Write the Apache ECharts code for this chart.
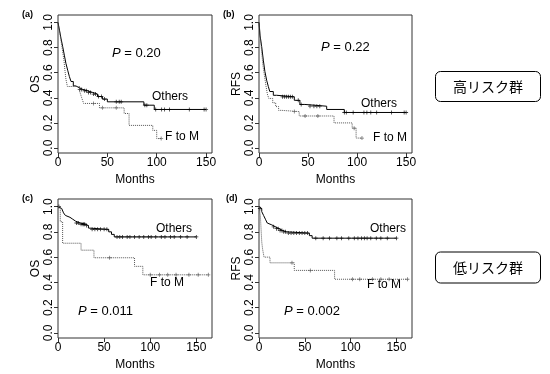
<!DOCTYPE html>
<html>
<head>
<meta charset="utf-8">
<script src="https://cdn.jsdelivr.net/npm/echarts@6/dist/echarts.min.js"></script>
<style>html,body{margin:0;padding:0;background:#fff}#c{width:550px;height:374px}</style>
</head>
<body>
<div id="c"></div>
<script>
// ---- Data ----
const xTicks = [0, 50, 100, 150];
const yTicks = [0, 0.2, 0.4, 0.6, 0.8, 1.0];
const panelLabels = ['(a)', '(b)', '(c)', '(d)'];
const yTitles = ['OS', 'RFS', 'OS', 'RFS'];
const pTexts = ['0.20', '0.22', '0.011', '0.002'];
const groupNames = ['Others', 'F to M'];
const riskLabels = ['高リスク群', '低リスク群'];

// (a) OS, high-risk
const aOthT = [0, 1.5, 3, 4.7, 6.4, 8, 9.8, 11.5, 13.2, 15.5, 18, 21.6, 25, 30, 35, 40, 45, 50, 87, 97.5, 150];
const aOthS = [1, 0.94, 0.875, 0.81, 0.74, 0.675, 0.62, 0.57, 0.53, 0.495, 0.48, 0.467, 0.456, 0.443, 0.43, 0.41, 0.39, 0.368, 0.341, 0.307, 0.307];
const aOthC = [22, 24, 27, 29, 31, 33, 36, 38, 41, 44, 47, 59, 62, 64, 88, 90, 99, 105, 108, 113, 133, 148, 150];
const aFmT = [0, 1.5, 3, 4.5, 6, 7, 8, 9.5, 22, 24, 26, 42, 67, 72, 96, 100, 104.5];
const aFmS = [1, 0.93, 0.86, 0.78, 0.70, 0.62, 0.55, 0.49, 0.45, 0.40, 0.355, 0.32, 0.275, 0.18, 0.14, 0.075, 0.075];
const aFmC = [36, 45, 59, 104.5];

// (b) RFS, high-risk
const bOthT = [0, 1, 2.7, 4.4, 6, 7.8, 9.5, 11, 14.6, 18, 36, 41.7, 46.8, 69, 87, 150];
const bOthS = [1, 0.9, 0.81, 0.70, 0.61, 0.54, 0.49, 0.45, 0.42, 0.408, 0.38, 0.347, 0.333, 0.307, 0.283, 0.283];
const bOthC = [24, 26, 28, 30, 32, 34, 40, 43, 52, 56, 59, 62, 87, 89, 96, 107, 110, 114, 120, 135, 148, 150];
const bFmT = [0, 1, 2, 3, 4, 5.5, 7, 8.5, 10, 14, 17, 20, 23, 41, 76.5, 95, 99, 105];
const bFmS = [1, 0.92, 0.83, 0.74, 0.66, 0.58, 0.50, 0.43, 0.395, 0.36, 0.33, 0.30, 0.29, 0.255, 0.20, 0.158, 0.079, 0.079];
const bFmC = [36, 47, 60, 97, 105];

// (c) OS, low-risk
const cOthT = [0, 2, 4, 6, 8, 10, 13, 16, 19, 24, 30, 33, 35, 55, 58, 61, 150];
const cOthS = [1, 0.985, 0.97, 0.95, 0.93, 0.915, 0.90, 0.885, 0.87, 0.86, 0.85, 0.83, 0.82, 0.80, 0.78, 0.76, 0.76];
const cOthC = [1, 20, 22, 25, 27, 28, 29, 31, 37, 40, 43, 46, 50, 53, 64, 67, 70, 75, 78, 83, 88, 93, 98, 101, 106, 112, 116, 122, 126, 133, 140, 150];
const cFmT = [0, 2.5, 5, 25, 39, 83, 92, 163];
const cFmS = [1, 0.88, 0.71, 0.655, 0.595, 0.527, 0.46, 0.46];
const cFmC = [56, 100, 110, 119, 128, 142, 152, 163];

// (d) RFS, low-risk
const dOthT = [0, 1, 3, 5, 7, 9, 11, 14, 18, 22, 26, 30, 55, 58, 150];
const dOthS = [1, 0.985, 0.96, 0.93, 0.90, 0.87, 0.855, 0.84, 0.825, 0.81, 0.80, 0.79, 0.77, 0.75, 0.75];
const dOthC = [1, 16, 19, 21, 23, 25, 27, 29, 32, 35, 38, 41, 44, 47, 50, 53, 62, 70, 77, 85, 90, 98, 104, 108, 112, 115, 118, 122, 128, 133, 140, 150];
const dFmT = [0, 1.5, 2, 2.5, 3, 4, 5.5, 12, 38.5, 82.5, 162];
const dFmS = [1, 0.93, 0.86, 0.79, 0.72, 0.66, 0.60, 0.555, 0.495, 0.425, 0.425];
const dFmC = [36, 56, 102, 110, 124, 133, 142, 162];

// ---- Layout ----
const FONT = 'Liberation Sans, Arial, Helvetica, sans-serif';
const grids = [
  {left: 58, top: 15, width: 154, height: 138},
  {left: 259, top: 15, width: 153, height: 138},
  {left: 58, top: 199, width: 154, height: 139},
  {left: 259, top: 199, width: 153, height: 139}
];
const xMax = [156, 156, 167, 167];
const panels = [
  {oth: [aOthT, aOthS, aOthC], fm: [aFmT, aFmS, aFmC]},
  {oth: [bOthT, bOthS, bOthC], fm: [bFmT, bFmS, bFmC]},
  {oth: [cOthT, cOthS, cOthC], fm: [cFmT, cFmS, cFmC]},
  {oth: [dOthT, dOthS, dOthC], fm: [dFmT, dFmS, dFmC]}
];

function survAt(T, S, t) {
  let v = S[0];
  for (let k = 0; k < T.length; k++) { if (T[k] <= t) v = S[k]; }
  return v;
}

const plusPath = 'path://M2,0h1v2h2v1h-2v2h-1v-2h-2v-1h2z';
const series = [];
panels.forEach((p, i) => {
  [['oth', '#000', 'solid'], ['fm', '#555', 'dotted']].forEach(([key, col, type]) => {
    const [T, S, C] = p[key];
    series.push({
      type: 'line', xAxisIndex: i, yAxisIndex: i, step: 'end', symbol: 'none',
      lineStyle: {color: col, width: 1, type: type}, silent: true, animation: false,
      data: T.map((t, k) => [t, S[k]])
    });
    series.push({
      type: 'scatter', xAxisIndex: i, yAxisIndex: i, symbol: plusPath, symbolSize: 4,
      itemStyle: {color: col}, silent: true, animation: false,
      data: C.map(t => [t, survAt(T, S, t)])
    });
  });
});

const xAxes = grids.map((g, i) => ({
  gridIndex: i, type: 'value', min: 0, max: xMax[i],
  name: 'Months', nameLocation: 'middle', nameGap: 21,
  nameTextStyle: {color: '#000', fontSize: 12, fontFamily: FONT},
  axisLine: {show: false, onZero: false},
  axisTick: {show: true, length: 4, customValues: xTicks, lineStyle: {color: '#333'}},
  axisLabel: {customValues: xTicks, color: '#000', fontSize: 12, fontFamily: FONT, margin: 4},
  splitLine: {show: false}
}));
const yAxes = grids.map((g, i) => ({
  gridIndex: i, type: 'value', min: -0.04, max: 1.06,
  name: yTitles[i], nameLocation: 'middle', nameGap: 15, nameRotate: 90,
  nameTextStyle: {color: '#000', fontSize: 12, fontFamily: FONT},
  axisLine: {show: false, onZero: false},
  axisTick: {show: true, length: 4, customValues: yTicks, lineStyle: {color: '#333'}},
  axisLabel: {customValues: yTicks, rotate: 90, color: '#000', fontSize: 12, fontFamily: FONT, margin: 3,
    formatter: v => v.toFixed(1)},
  splitLine: {show: false}
}));

const graphic = [];
const labelPos = [[22, 15], [223, 15], [22, 199], [226, 199]];
panelLabels.forEach((t, i) => graphic.push({
  type: 'text', x: labelPos[i][0], y: labelPos[i][1],
  style: {text: t, fontSize: 9, fontWeight: 'bold', fontFamily: FONT, fill: '#000', verticalAlign: 'middle'}
}));
const pPos = [[112, 53], [321, 47], [78, 311], [284, 311]];
pTexts.forEach((t, i) => graphic.push({
  type: 'text', x: pPos[i][0], y: pPos[i][1],
  style: {text: '{i|P} = ' + t, fontSize: 13, fontFamily: FONT, fill: '#000', verticalAlign: 'middle',
    rich: {i: {fontStyle: 'italic', fontSize: 13, fontFamily: FONT}}}
}));
const othPos = [[152, 97], [361, 104], [156, 229], [370, 229]];
const fmPos = [[165, 137], [373, 138], [150, 283], [367, 285]];
[othPos, fmPos].forEach((pos, g) => pos.forEach(([x, y]) => graphic.push({
  type: 'text', x: x, y: y,
  style: {text: groupNames[g], fontSize: 12, fontFamily: FONT, fill: '#000', verticalAlign: 'middle'}
})));
const boxY = [[71.5, 30], [252, 31]];
riskLabels.forEach((t, i) => {
  graphic.push({type: 'rect', shape: {x: 435.5, y: boxY[i][0], width: 105, height: boxY[i][1], r: 5},
    style: {fill: '#fff', stroke: '#000', lineWidth: 1}});
  graphic.push({type: 'text', x: 488, y: boxY[i][0] + boxY[i][1] / 2,
    style: {text: t, fontSize: 14, fontFamily: 'Noto Sans CJK JP, sans-serif', fill: '#000',
      align: 'center', verticalAlign: 'middle'}});
});

const chart = echarts.init(document.getElementById('c'), null, {renderer: 'canvas'});
chart.setOption({
  animation: false,
  grid: grids.map(g => Object.assign({show: true, borderColor: '#333', borderWidth: 1, backgroundColor: 'transparent'}, g)),
  xAxis: xAxes, yAxis: yAxes, series: series, graphic: graphic
});
</script>
</body>
</html>
